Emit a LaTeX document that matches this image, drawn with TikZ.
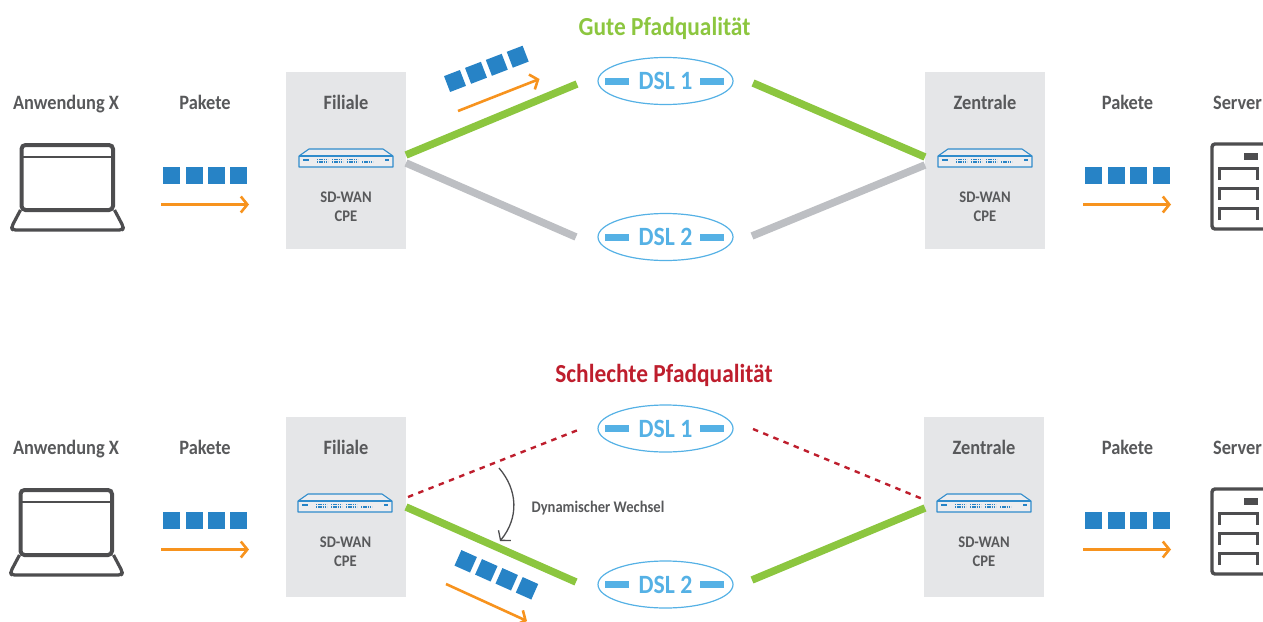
\documentclass[tikz,border=0pt]{standalone}
\usepackage{fontspec}
\setmainfont{Carlito}[FakeStretch=0.9]
\usetikzlibrary{arrows.meta,shapes.geometric}
\definecolor{gutgreen}{HTML}{8CC63F}
\definecolor{badred}{HTML}{BE1E2D}
\definecolor{pathgray}{HTML}{BDBFC3}
\definecolor{boxgray}{HTML}{E5E6E8}
\definecolor{labelgray}{HTML}{58595B}
\definecolor{icongray}{HTML}{4D4D4F}
\definecolor{packetblue}{HTML}{2783C6}
\definecolor{dslblue}{HTML}{55B1E5}
\definecolor{flow}{HTML}{F7931E}
\tikzset{
    >={Straight Barb[length=6.5pt,width=16pt,line cap=butt]}, % Default arrow tip
    label/.style={font=\fontsize{20.4}{24}\selectfont\bfseries, text=labelgray, inner sep=0pt, text height=13pt, text depth=4pt},
    small/.style={font=\fontsize{16.2}{19}\selectfont\bfseries, text=labelgray, inner sep=0pt, align=center},
    title/.style={font=\fontsize{26}{30}\selectfont\bfseries, inner sep=0pt, text height=17pt, text depth=6pt},
    site/.style={fill=boxgray, inner sep=0pt, minimum width=120pt},
    packet/.style={fill=packetblue, inner sep=0pt, minimum size=17pt},
    flowline/.style={->, flow, line width=2.6pt},
    good/.style={gutgreen, line width=7.5pt},
    idle/.style={pathgray, line width=7.5pt},
    bad/.style={badred, line width=2.4pt, dash pattern=on 5.5pt off 5.5pt},
    dsl/.style={draw=dslblue, ellipse, line width=1.2pt, minimum width=135pt, minimum height=47pt,
        inner sep=0pt, text=dslblue, font=\fontsize{26.4}{28}\selectfont\bfseries},
    dslbar/.style={fill=dslblue, inner sep=0pt, minimum width=24pt, minimum height=7pt},
    laptop/.pic={
        \draw[icongray, line width=4pt, rounded corners=4pt] (2,67) -- (2,2) -- (93.5,2) -- (93.5,67) -- cycle;
        \draw[icongray, line width=2pt] (2,14) -- (93.5,14);
        \draw[icongray, line width=3.2pt, rounded corners=3pt, line join=round]
            (1,67) -- (-8,84) -- (-7,87) -- (103,87) -- (104,84) -- (95,67);
    },
    server/.pic={
        \draw[icongray, line width=3.4pt, rounded corners=3pt] (2,87) -- (2,2) -- (60,2) -- (60,87) -- cycle;
        \fill[icongray] (34,11) rectangle (48,18);
        \foreach \y in {26,46,66}
            \draw[icongray, line width=3pt] (9,\y+12) -- (9,\y) -- (47,\y) -- (47,\y+12);
    },
    router/.pic={
        \draw[packetblue!80!dslblue, line width=1.1pt, fill=boxgray!70!white, line join=round]
            (-47,-2.5) -- (-37,-9.5) -- (37,-9.5) -- (47,-2.5) -- (47,8.5) -- (-47,8.5) -- cycle;
        \draw[packetblue!80!dslblue, line width=1.1pt] (-47,-2.5) -- (47,-2.5);
        \draw[packetblue, line width=1.3pt] (-43,1.5) -- (-37,1.5) (39,1.5) -- (43,1.5);
        \foreach \x in {-29,-14,1}
            \draw[packetblue, line width=1.5pt, dash pattern=on 1.4pt off 0.8pt] (\x,1.2) -- (\x+11,1.2) (\x,3.7) -- (\x+11,3.7);
        \draw[packetblue, line width=1.5pt, dash pattern=on 1.4pt off 0.8pt] (16,3.7) -- (27,3.7);
    }
}
\begin{document}
\begin{tikzpicture}[x=1pt,y=-1pt]
    \clip (0,0) rectangle (1263,621);

    % Gute Pfadqualitaet
    \node[title, text=gutgreen] (titleA) at (664.5,30) {Gute Pfadqualität};
    \node[label] (appA) at (66,104.5) {Anwendung X};
    \node[label] (pktA) at (205,104.5) {Pakete};
    \node[site, minimum height=177pt] (filA) at (346,160.5) {};
    \node[label] (filTextA) at (346,104.5) {Filiale};
    \node[small] (cpeA) at (346,206.5) {SD-WAN\\CPE};
    \node[site, minimum height=177pt] (zenA) at (985,160.5) {};
    \node[label] (zenTextA) at (985,104.5) {Zentrale};
    \node[small] (cpeB) at (985,206.5) {SD-WAN\\CPE};
    \node[label] (pktB) at (1127.5,104.5) {Pakete};
    \node[label] (srvA) at (1237.5,104.5) {Server};
    \pic at (19.5,143) {laptop};
    \pic at (1210,142) {server};
    \pic at (346,158.5) {router};
    \pic at (985,158.5) {router};
    \foreach \i/\x in {1/171.5,2/194.5,3/216.5,4/238.5}
        \node[packet] (pa\i) at (\x,175.5) {};
    \foreach \i/\x in {1/1093.5,2/1116.5,3/1138.5,4/1161.5}
        \node[packet] (pb\i) at (\x,175.5) {};
    \foreach \i/\x/\y in {1/455/81,2/476/72.8,3/496.8/64.8,4/517.7/56.7}
        \node[packet, rotate=21] (pc\i) at (\x,\y) {};

    \coordinate (a1) at (161,204.5);
    \coordinate (a2) at (249,204.5);
    \coordinate (b1) at (1083,204.5);
    \coordinate (b2) at (1171,204.5);
    \coordinate (c1) at (458,111);
    \coordinate (c2) at (539.5,79);
    \draw[flowline] (a1) -- (a2);
    \draw[flowline] (b1) -- (b2);
    \draw[flowline] (c1) -- (c2);

    \node[dsl] (dslA) at (665.5,81) {DSL 1};
    \node[dsl] (dslB) at (665.5,237) {DSL 2};
    \foreach \n in {dslA,dslB} {
        \node[dslbar] at ([xshift=-48.5pt]\n.center) {};
        \node[dslbar] at ([xshift=46.5pt]\n.center) {};
    }

    \coordinate (l1) at (406,155);
    \coordinate (l2) at (577,84);
    \coordinate (l3) at (406,163);
    \coordinate (l4) at (576,237);
    \coordinate (r1) at (753,83);
    \coordinate (r2) at (925,157);
    \coordinate (r3) at (752,236);
    \coordinate (r4) at (925,165);
    \draw[good] (l1) -- (l2);
    \draw[idle] (l3) -- (l4);
    \draw[good] (r1) -- (r2);
    \draw[idle] (r3) -- (r4);

    % Schlechte Pfadqualitaet
    \node[title, text=badred] (titleB) at (664,377) {Schlechte Pfadqualität};
    \node[label] (appB) at (66,449.5) {Anwendung X};
    \node[label] (pktC) at (205,449.5) {Pakete};
    \node[site, minimum height=180pt] (filB) at (346,507) {};
    \node[label] (filTextB) at (346,449.5) {Filiale};
    \node[small] (cpeC) at (345.5,551.5) {SD-WAN\\CPE};
    \node[site, minimum height=180pt] (zenB) at (984,507) {};
    \node[label] (zenTextB) at (984,449.5) {Zentrale};
    \node[small] (cpeD) at (984,551.5) {SD-WAN\\CPE};
    \node[label] (pktD) at (1127.5,449.5) {Pakete};
    \node[label] (srvB) at (1237.5,449.5) {Server};
    \pic at (18.5,488) {laptop};
    \pic at (1210,487) {server};
    \pic at (345,503.5) {router};
    \pic at (984,503.5) {router};
    \foreach \i/\x in {1/171.5,2/194.5,3/216.5,4/238.5}
        \node[packet] (pd\i) at (\x,520.5) {};
    \foreach \i/\x in {1/1093.5,2/1116.5,3/1138.5,4/1161.5}
        \node[packet] (pe\i) at (\x,520.5) {};
    \foreach \i/\x/\y in {1/465.7/561.3,2/486.3/570.3,3/506.7/579.3,4/527/588.3}
        \node[packet, rotate=-24] (pf\i) at (\x,\y) {};

    \coordinate (d1) at (161,549.5);
    \coordinate (d2) at (249,549.5);
    \coordinate (e1) at (1083,549.5);
    \coordinate (e2) at (1171,549.5);
    \coordinate (f1) at (446,584);
    \coordinate (f2) at (527,621);
    \draw[flowline] (d1) -- (d2);
    \draw[flowline] (e1) -- (e2);
    \draw[flowline] (f1) -- (f2);

    \node[dsl] (dslC) at (665.5,428.5) {DSL 1};
    \node[dsl] (dslD) at (665.5,584.5) {DSL 2};
    \foreach \n in {dslC,dslD} {
        \node[dslbar] at ([xshift=-48.5pt]\n.center) {};
        \node[dslbar] at ([xshift=46.5pt]\n.center) {};
    }

    \coordinate (m1) at (408,497);
    \coordinate (m2) at (578,430);
    \coordinate (m3) at (406,507);
    \coordinate (m4) at (576,582);
    \coordinate (n1) at (753,429);
    \coordinate (n2) at (925,500);
    \coordinate (n3) at (752,580);
    \coordinate (n4) at (925,508);
    \draw[bad] (m1) -- (m2);
    \draw[good] (m3) -- (m4);
    \draw[bad] (n1) -- (n2);
    \draw[good] (n3) -- (n4);

    \node[small] (dyn) at (598,508) {Dynamischer Wechsel};
    \coordinate (s1) at (499,468);
    \coordinate (s2) at (500,541);
    \draw[->, icongray, line width=1.3pt] (s1) .. controls (518,490) and (519,518) .. (s2);
\end{tikzpicture}
\end{document}
